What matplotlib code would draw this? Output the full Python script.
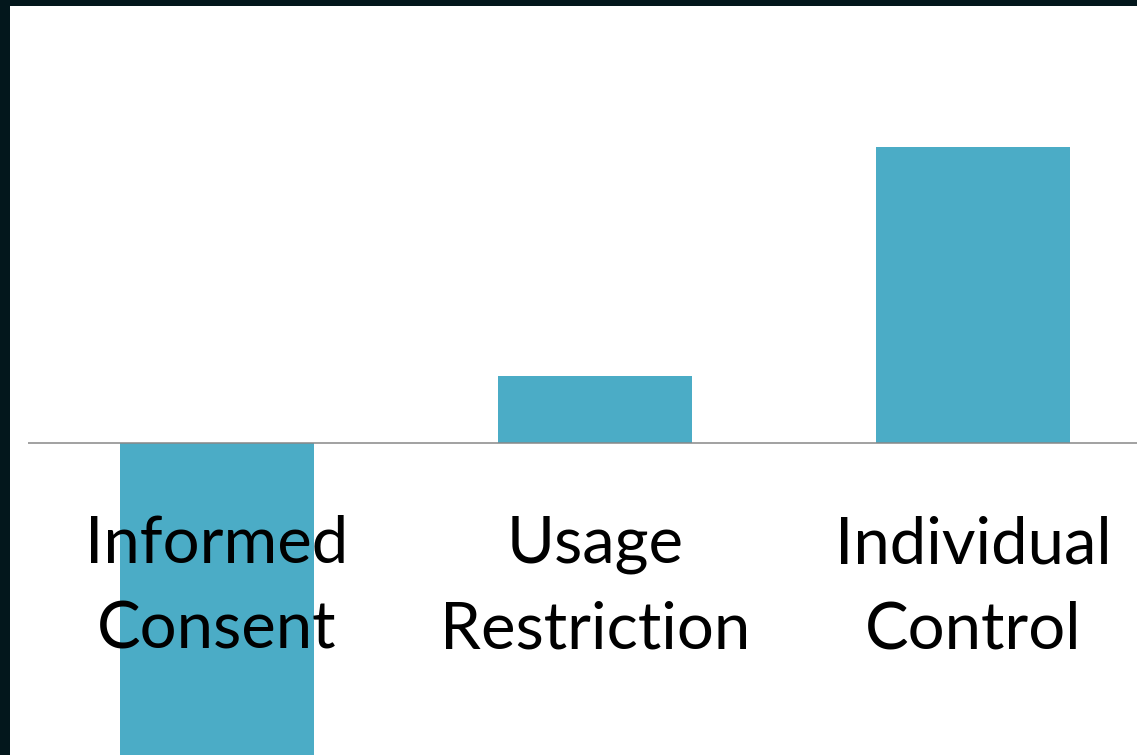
import matplotlib.pyplot as plt
from matplotlib.patches import Rectangle

# データ
categories = ['Informed\nConsent', 'Usage\nRestriction', 'Individual\nControl']
values = [-4.5, 0.9, 4.0]

W, H = 1137, 755
fig = plt.figure(figsize=(W / 100, H / 100), dpi=100)
fig.patch.set_facecolor('#03171c')

# 白い背景
fig.patches.append(Rectangle((10 / W, 0), 1 - 10 / W, 1 - 6 / H,
                             transform=fig.transFigure, facecolor='white',
                             edgecolor='none', zorder=-1))

ax = fig.add_axes([28 / W, 0, 1 - 28 / W, 1 - 6 / H])
ax.patch.set_alpha(0)
x = range(len(categories))
ax.bar(x, values, width=0.512, color='#4BACC6', zorder=1)
ax.axhline(0, color='#888888', linewidth=1.1, zorder=2)
ax.set_xlim(-0.5, -0.5 + (W - 28) / 378)
ax.set_ylim(-312 / 74, 437 / 74)
ax.axis('off')

for i, lab in enumerate(categories):
    ax.text(i, -1.95, lab, ha='center', va='center', fontsize=47,
            family='Lato', linespacing=1.55, color='black', zorder=3)

fig.savefig('out.png', dpi=100, facecolor=fig.get_facecolor())
